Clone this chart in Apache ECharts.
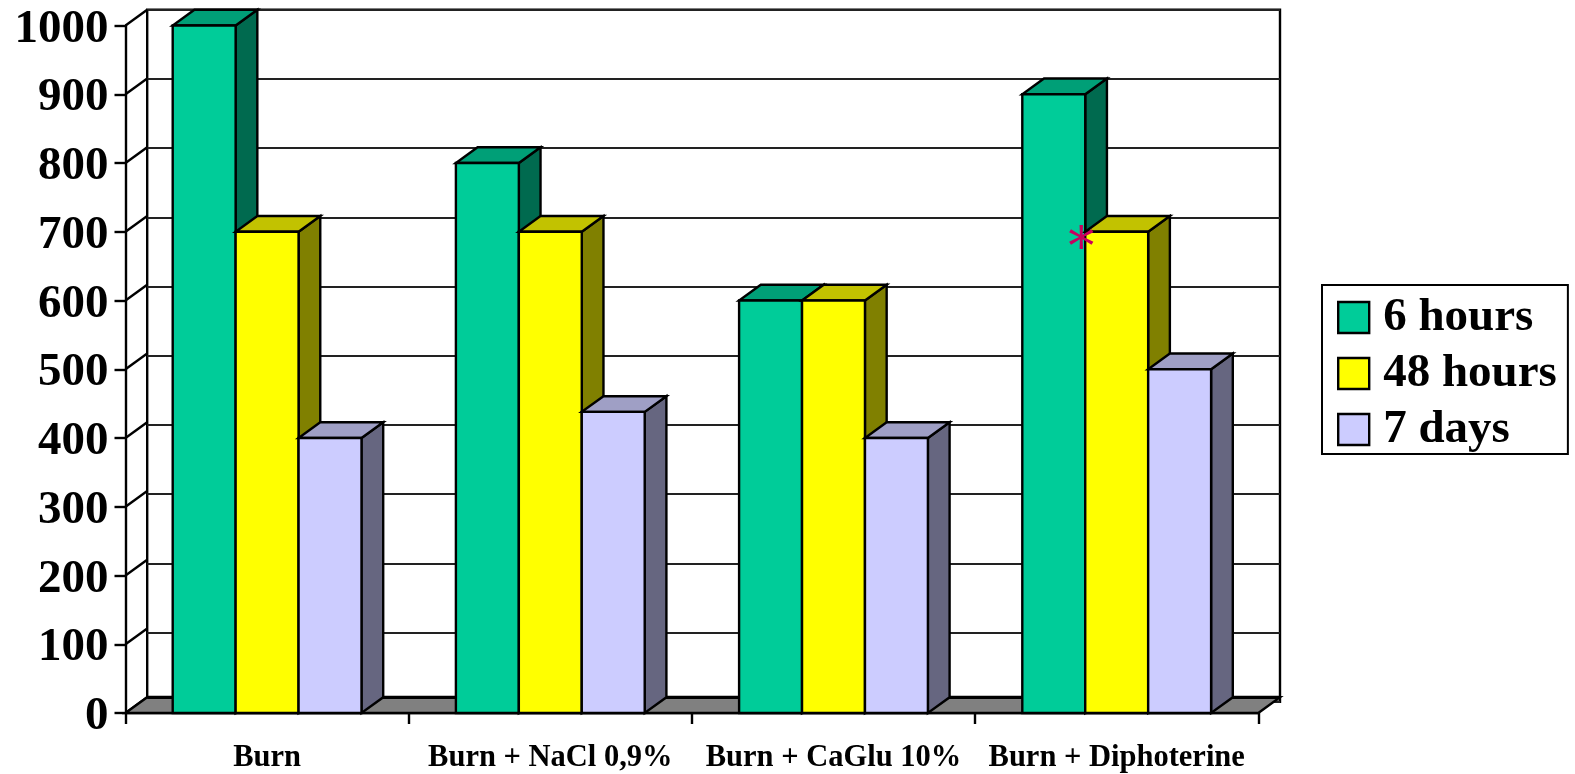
<!DOCTYPE html>
<html>
<head>
<meta charset="utf-8">
<style>html,body{margin:0;padding:0;background:#fff}#chart{width:1575px;height:774px}</style>
<script src="https://cdn.jsdelivr.net/npm/echarts@6/dist/echarts.min.js"></script>
</head>
<body>
<div id="chart"></div>
<script>
// Serum level by treatment group and time after burn
const categories = ['Burn', 'Burn + NaCl 0,9%', 'Burn + CaGlu 10%', 'Burn + Diphoterine'];
const seriesNames = ['6 hours', '48 hours', '7 days'];
const hours6 = [1000, 800, 600, 900];
const hours48 = [700, 700, 600, 700];
const days7 = [400, 438, 400, 500];
const yTicks = [0, 100, 200, 300, 400, 500, 600, 700, 800, 900, 1000];
const seriesValues = [hours6, hours48, days7];
const faceColors = [
  { front: '#00cc99', top: '#009f77', side: '#006a4f' },
  { front: '#ffff00', top: '#c2c200', side: '#808000' },
  { front: '#ccccff', top: '#9f9fc5', side: '#666680' }
];

// Oblique projection offset of the chart's depth direction
const DX = 21.7, DY = 15.7;
const LEFT = 125.5, WIDTH = 1132.8, TOP = 25.5, HEIGHT = 692;
const EDGE = { stroke: '#000', lineWidth: 2.4 };
const FONT = '"Liberation Serif", "Times New Roman", serif';

const chart = echarts.init(document.getElementById('chart'), null, { renderer: 'canvas' });

function parallelogram(a, b, fill) {
  return {
    type: 'polygon',
    shape: { points: [a, b, [b[0] + DX, b[1] - DY], [a[0] + DX, a[1] - DY]] },
    style: Object.assign({ fill: fill }, EDGE)
  };
}

// Prism for one bar: side and top faces first, then the front face
function barRenderer(seriesIndex) {
  return function (params, api) {
    const band = api.size([1, 0])[0];
    const barW = band / 4.5;
    const cat = api.value(0);
    const center = api.coord([cat, 0])[0];
    const x0 = center + (seriesIndex - 1.5) * barW;
    const x1 = x0 + barW;
    const yBase = api.coord([cat, 0])[1];
    const yTop = api.coord([cat, api.value(1)])[1];
    const c = faceColors[seriesIndex];
    return {
      type: 'group',
      children: [
        {
          type: 'polygon',
          shape: { points: [[x1, yTop], [x1 + DX, yTop - DY], [x1 + DX, yBase - DY], [x1, yBase]] },
          style: Object.assign({ fill: c.side }, EDGE)
        },
        parallelogram([x0, yTop], [x1, yTop], c.top),
        {
          type: 'rect',
          shape: { x: x0, y: yTop, width: barW, height: yBase - yTop },
          style: Object.assign({ fill: c.front }, EDGE)
        }
      ]
    };
  };
}

const barSeries = seriesNames.map(function (name, s) {
  return {
    type: 'custom',
    name: name,
    xAxisIndex: 0,
    yAxisIndex: 0,
    clip: false,
    z: 3,
    itemStyle: { color: faceColors[s].front },
    encode: { x: 0, y: 1 },
    data: categories.map(function (c, i) { return [i, seriesValues[s][i]]; }),
    renderItem: barRenderer(s)
  };
});

// Floor of the plot box, with a heavier back edge
const floorSeries = {
  type: 'custom',
  xAxisIndex: 0,
  yAxisIndex: 0,
  clip: false,
  silent: true,
  z: 2,
  data: [[0, 0]],
  renderItem: function (params, api) {
    const band = api.size([1, 0])[0];
    const y = api.coord([0, 0])[1];
    const xa = api.coord([0, 0])[0] - band / 2;
    const xb = xa + band * categories.length;
    return {
      type: 'group',
      children: [
        parallelogram([xa, y], [xb, y], '#808080'),
        {
          type: 'line',
          shape: { x1: xa + DX, y1: y - DY, x2: xb + DX, y2: y - DY },
          style: { stroke: '#000', lineWidth: 3.2 }
        }
      ]
    };
  }
};

// Diagonal lines on the left wall, one per value tick
const wallSeries = {
  type: 'custom',
  xAxisIndex: 0,
  yAxisIndex: 0,
  clip: false,
  silent: true,
  z: 2,
  data: yTicks.map(function (t) { return [0, t]; }),
  renderItem: function (params, api) {
    const band = api.size([1, 0])[0];
    const p = api.coord([0, api.value(1)]);
    const x = p[0] - band / 2;
    return {
      type: 'line',
      shape: { x1: x, y1: p[1], x2: x + DX, y2: p[1] - DY },
      style: EDGE
    };
  }
};

// Significance mark at the 48 hours bar of the last group
const markSeries = {
  type: 'custom',
  xAxisIndex: 0,
  yAxisIndex: 0,
  clip: false,
  silent: true,
  z: 4,
  data: [[3, hours48[3]]],
  renderItem: function (params, api) {
    const band = api.size([1, 0])[0];
    const p = api.coord([api.value(0), api.value(1)]);
    return {
      type: 'text',
      style: {
        x: p[0] - band / 4.5 / 2 - 4,
        y: p[1] + 18.6,
        text: '*',
        fill: '#c8005f',
        font: 'normal 52px "DejaVu Serif"',
        align: 'center',
        verticalAlign: 'middle'
      }
    };
  }
};

chart.setOption({
  animation: false,
  backgroundColor: '#fff',
  textStyle: { fontFamily: FONT },
  grid: [
    { left: LEFT, top: TOP, width: WIDTH, height: HEIGHT, containLabel: false },
    {
      left: LEFT + DX, top: TOP - DY, width: WIDTH, height: HEIGHT, show: true,
      backgroundColor: '#fff', borderColor: '#000', borderWidth: 2.4
    }
  ],
  xAxis: [
    {
      type: 'category', gridIndex: 0, data: categories,
      axisLine: { lineStyle: { color: '#000', width: 2.4 } },
      axisTick: { show: true, length: 11, alignWithLabel: false, lineStyle: { color: '#000', width: 2.4 } },
      axisLabel: { color: '#000', fontFamily: FONT, fontWeight: 'bold', fontSize: 30.5, margin: 30, interval: 0 }
    },
    { type: 'category', gridIndex: 1, data: categories, show: false }
  ],
  yAxis: [
    {
      type: 'value', gridIndex: 0, min: 0, max: 1000, interval: 100,
      axisLine: { show: true, lineStyle: { color: '#000', width: 2.4 } },
      axisTick: { show: true, length: 11, lineStyle: { color: '#000', width: 2.4 } },
      axisLabel: {
        color: '#000', fontFamily: FONT, fontWeight: 'bold', fontSize: 47, margin: 17,
        verticalAlign: 'top', lineHeight: 8,
        showMinLabel: true, showMaxLabel: true,
        formatter: function (v) { return yTicks.indexOf(v) >= 0 ? String(v) : ''; }
      },
      splitLine: { show: false }
    },
    {
      type: 'value', gridIndex: 1, min: 0, max: 1000, interval: 100,
      axisLabel: { show: false }, axisTick: { show: false }, axisLine: { show: false },
      splitLine: { show: true, lineStyle: { color: '#222', width: 2 } }
    }
  ],
  legend: {
    orient: 'vertical',
    data: seriesNames,
    left: 1322,
    top: 285,
    padding: [9, 11, 1, 15],
    itemWidth: 31,
    itemHeight: 31,
    itemGap: 9,
    icon: 'rect',
    backgroundColor: '#fff',
    borderColor: '#000',
    borderWidth: 2,
    selectedMode: false,
    itemStyle: { borderColor: '#000', borderWidth: 2.4 },
    textStyle: { color: '#000', fontFamily: FONT, fontWeight: 'bold', fontSize: 47, padding: [10, 0, 0, 9] }
  },
  series: [wallSeries, floorSeries].concat(barSeries, [markSeries])
});
</script>
</body>
</html>
